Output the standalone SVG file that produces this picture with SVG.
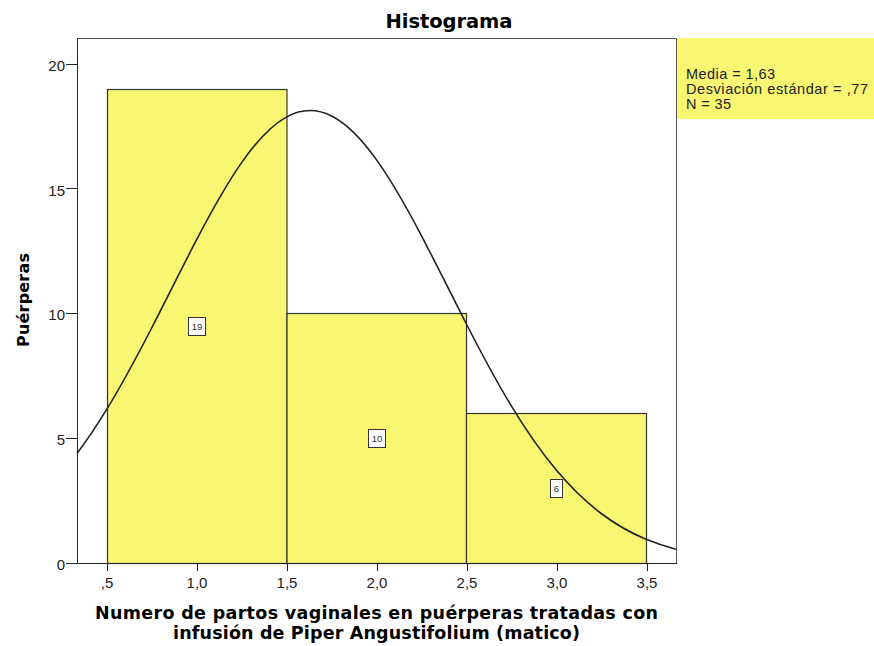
<svg xmlns="http://www.w3.org/2000/svg" width="874" height="646" viewBox="0 0 874 646">
<style>
.bar{fill:#f9f672;stroke:#333;stroke-width:1.2}
.axis{stroke:#222;stroke-width:1;fill:none}
.frame{stroke:#555;stroke-width:1;fill:none}
.tick{font-family:"Liberation Sans",Arial,sans-serif;font-size:15px;fill:#222}
.title{font-family:"DejaVu Sans",Verdana,sans-serif;font-weight:bold;fill:#000}
.lbox{fill:#fff;stroke:#333;stroke-width:1}
.ltxt{font-family:"Liberation Sans",Arial,sans-serif;font-size:9.5px;fill:#333;text-anchor:middle}
.leg{font-family:"Liberation Sans",Arial,sans-serif;font-size:14.5px;fill:#222}
.curve{fill:none;stroke:#222;stroke-width:1.6;stroke-linejoin:round}
</style>
<rect x="0" y="0" width="874" height="646" fill="#fff"/>
<text class="title" x="449" y="28" font-size="19.5" text-anchor="middle" textLength="127">Histograma</text>
<g id="bars">
<g id="bar1"><rect class="bar" x="107.5" y="89.5" width="179.5" height="474"/></g>
<g id="bar2"><rect class="bar" x="287" y="313.5" width="179.5" height="250"/></g>
<g id="bar3"><rect class="bar" x="466.5" y="413.5" width="180" height="150"/></g>
</g>
<g id="frame">
<path class="frame" d="M77.5,38.5 H676.5 V563.5"/>
<path class="axis" d="M77.5,38 V563.5 H677"/>
<path class="axis" d="M66,64.5 H77 M66,188.5 H77 M66,313.5 H77 M66,438.5 H77 M66,563.5 H77"/>
<path class="axis" d="M107.5,563 V571 M197.5,563 V571 M287.5,563 V571 M377.5,563 V571 M467.5,563 V571 M557.5,563 V571 M647.5,563 V571"/>
</g>
<g id="yticks" class="tick" text-anchor="end">
<text x="65" y="71">20</text>
<text x="65" y="196">15</text>
<text x="65" y="320">10</text>
<text x="65" y="445">5</text>
<text x="65" y="570">0</text>
</g>
<g id="xticks" class="tick" text-anchor="middle">
<text x="107" y="588">,5</text>
<text x="197" y="588">1,0</text>
<text x="287" y="588">1,5</text>
<text x="377" y="588">2,0</text>
<text x="467" y="588">2,5</text>
<text x="557" y="588">3,0</text>
<text x="647" y="588">3,5</text>
</g>
<g id="connectors">
<path class="curve" d="M77,453.5 C87,440.2 97,425.2 107,408.9 C122,384.4 136.9,356.6 151.9,327.5 C166.9,298.3 181.9,267.9 196.9,239.2 C211.9,210.5 226.8,183.8 241.8,162.4 C256.8,141 271.7,125.1 286.7,116.9 C301.7,108.7 316.6,108.5 331.6,116 C346.6,123.6 361.6,138.9 376.6,159.9 C391.6,180.9 406.5,207.2 421.5,235.8 C436.5,264.4 451.4,294.7 466.4,324 C481.4,353.3 496.3,381.1 511.3,405.9 C526.3,430.7 541.3,452.2 556.3,470.1 C571.3,488 586.2,502.2 601.2,513.5 C616.2,524.8 631.1,533.1 646.1,539.3 C656,543.4 665.9,546.6 675.8,549.2"/>
</g>
<g id="label19"><rect class="lbox" x="188.5" y="317.5" width="17" height="18"/><text class="ltxt" x="197" y="330">19</text></g>
<g id="label10"><rect class="lbox" x="368.5" y="429.5" width="17" height="18"/><text class="ltxt" x="377" y="442">10</text></g>
<g id="label6"><rect class="lbox" x="550.5" y="479.5" width="12" height="18"/><text class="ltxt" x="556.5" y="492">6</text></g>
<g id="legend">
<rect x="677" y="38" width="197" height="81" fill="#f9f672"/>
<text class="leg" x="686" y="79" textLength="89">Media = 1,63</text>
<text class="leg" x="686" y="94" textLength="182">Desviación estándar = ,77</text>
<text class="leg" x="686" y="109" textLength="45">N = 35</text>
</g>
<text class="title" transform="translate(29,300) rotate(-90)" font-size="16" text-anchor="middle" textLength="94">Puérperas</text>
<text class="title" x="376.5" y="619" font-size="17.5" text-anchor="middle" textLength="563">Numero de partos vaginales en puérperas tratadas con</text>
<text class="title" x="376.5" y="639" font-size="17.5" text-anchor="middle" textLength="407">infusión de Piper Angustifolium (matico)</text>
</svg>
